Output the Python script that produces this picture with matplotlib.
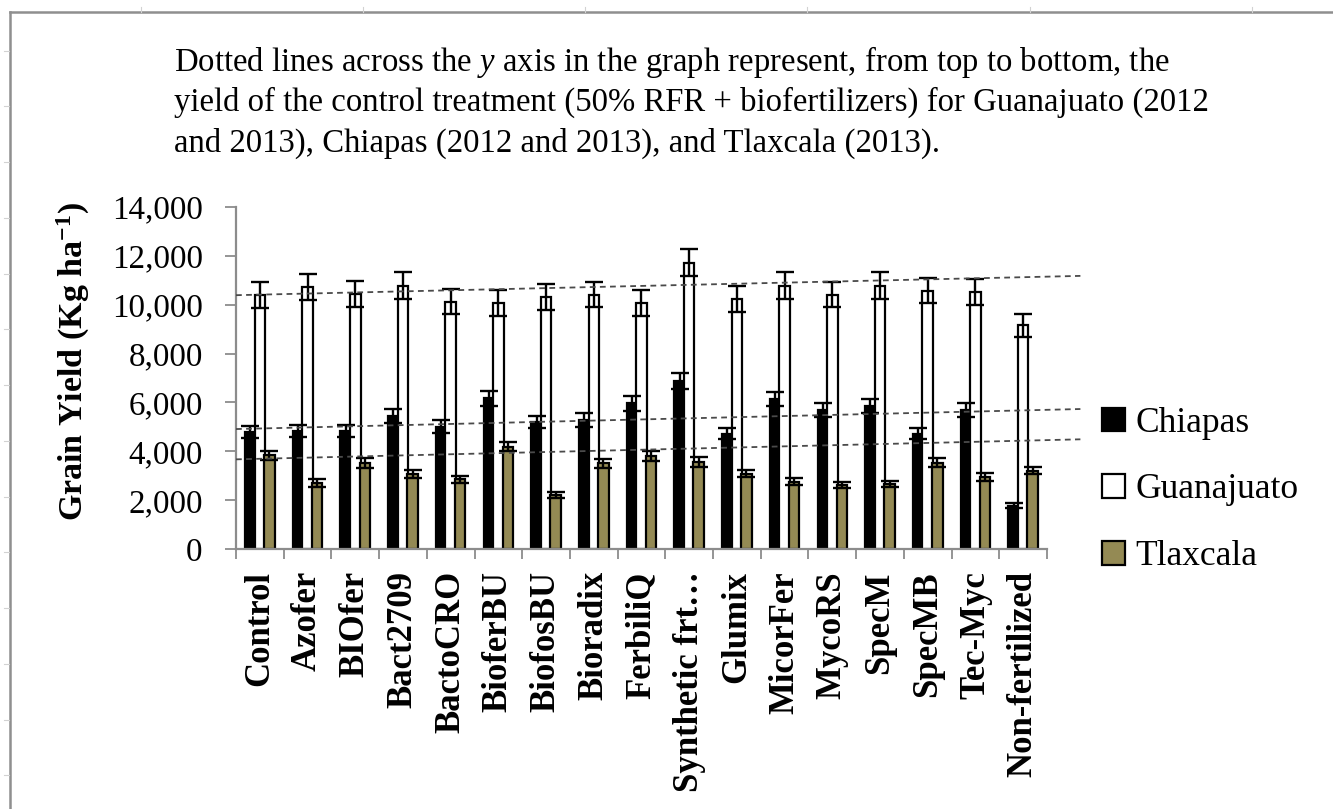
import matplotlib
matplotlib.use("Agg")
import matplotlib.pyplot as plt
from matplotlib.patches import Patch
from matplotlib.lines import Line2D
import numpy as np

plt.rcParams['font.family'] = ['Liberation Serif', 'DejaVu Serif']
plt.rcParams['mathtext.fontset'] = 'custom'
plt.rcParams['mathtext.rm'] = 'Liberation Serif'
plt.rcParams['mathtext.it'] = 'Liberation Serif:italic'
plt.rcParams['mathtext.bf'] = 'Liberation Serif:bold'

# ---------------- data ----------------
categories = ["Control", "Azofer", "BIOfer", "Bact2709", "BactoCRO", "BioferBU",
              "BiofosBU", "Bioradix", "FerbiliQ", "Synthetic frt\u2026", "Glumix",
              "MicorFer", "MycoRS", "SpecM", "SpecMB", "Tec-Myc", "Non-fertilized"]
series_names = ["Chiapas", "Guanajuato", "Tlaxcala"]

chiapas = [4780, 4840, 4830, 5460, 5000, 6170, 5200, 5280, 5960, 6880, 4720,
           6140, 5700, 5850, 4720, 5700, 1770]
chiapas_err = [240, 250, 230, 290, 265, 315, 260, 300, 300, 340, 225,
               290, 290, 295, 230, 290, 100]
guanajuato = [10400, 10730, 10440, 10780, 10130, 10080, 10320, 10410, 10070, 11720, 10240,
              10780, 10410, 10780, 10580, 10520, 9160]
guanajuato_err = [545, 540, 545, 545, 520, 525, 540, 520, 525, 565, 525,
                  545, 510, 545, 525, 520, 465]
tlaxcala = [3840, 2700, 3530, 3070, 2850, 4190, 2200, 3510, 3820, 3550, 3080,
            2760, 2620, 2660, 3530, 2960, 3210]
tlaxcala_err = [190, 150, 205, 165, 140, 190, 125, 190, 205, 205, 150,
                140, 125, 140, 180, 165, 140]

# control-treatment reference lines (start value, end value)
ref_start = [10390, 4910, 3670]
ref_end = [11180, 5730, 4490]

y_ticks = [0, 2000, 4000, 6000, 8000, 10000, 12000, 14000]

title_lines = [
    "Dotted lines across the $y$ axis in the graph represent, from top to bottom, the",
    "yield of the control treatment (50% RFR + biofertilizers) for Guanajuato (2012",
    "and 2013), Chiapas (2012 and 2013), and Tlaxcala (2013).",
]

# ---------------- figure ----------------
W, H = 1333, 809
fig = plt.figure(figsize=(W / 100, H / 100), dpi=100)
fx = lambda px: px / W
fy = lambda py: 1 - py / H

ax = fig.add_axes([fx(236), fy(549), fx(1047) - fx(236), fy(207) - fy(549)])

colors = ["#000000", "#FFFFFF", "#948A54"]
values = [chiapas, guanajuato, tlaxcala]
errs = [chiapas_err, guanajuato_err, tlaxcala_err]
x = np.arange(len(categories))
offsets = [-0.2, 0.0, 0.2]
bw = 0.22

for vals, c, off in zip(values, colors, offsets):
    ax.bar(x + off, vals, width=bw, color=c, edgecolor="black", linewidth=1.6, zorder=2)
for vals, er, off in zip(values, errs, offsets):
    ax.errorbar(x + off, vals, yerr=er, fmt="none", ecolor="black", elinewidth=1.7,
                capsize=6.5, capthick=1.7, zorder=3)

# reference lines
x0, x1 = -0.5, 17.2
for s, e in zip(ref_start, ref_end):
    ax.plot([x0, x1], [s, e], color="#4a4a4a", lw=1.3, ls=(0, (3.2, 2.4)),
            clip_on=False, zorder=4)

ax.set_xlim(-0.5, len(categories) - 0.5)
ax.set_ylim(0, 14000)
ax.set_yticks(y_ticks)
ax.set_yticklabels([f"{v:,}" for v in y_ticks])
ax.set_xticks(x)
ax.set_xticklabels(categories, rotation=90, fontweight="bold", fontsize=25)
ax.set_xticks(np.arange(-0.5, len(categories)), minor=True)
ax.tick_params(axis="x", which="major", length=0, pad=16)
ax.tick_params(axis="x", which="minor", length=7.5, width=1.3, color="#8c8c8c", direction="out")
ax.tick_params(axis="y", which="major", length=8, width=1.3, color="#8c8c8c",
               labelsize=23.8, pad=16)

for sp in ["top", "right"]:
    ax.spines[sp].set_visible(False)
for sp in ["left", "bottom"]:
    ax.spines[sp].set_color("#8c8c8c")
    ax.spines[sp].set_linewidth(1.6)

# y label
fig.text(fx(73), fy(362), "Grain Yield (Kg ha$^{\\mathbf{-1}}$)", rotation=90,
         ha="center", va="center", fontsize=24.5, fontweight="bold")

# title lines
for txt, by in zip(title_lines, [71, 111, 151.5]):
    fig.text(fx(174), fy(by), txt, ha="left", va="baseline", fontsize=23.6)

# legend
handles = [Patch(facecolor=c, edgecolor="black", linewidth=1.6) for c in colors]
fig.legend(handles, series_names, loc="center left", bbox_to_anchor=(fx(1102), fy(490)),
           frameon=False, fontsize=25.5, handlelength=0.65, handleheight=0.65,
           handletextpad=0.3, labelspacing=0.95, borderpad=0, borderaxespad=0)

# page frame
fig.add_artist(Line2D([fx(9.5), fx(9.5)], [fy(12.3), -0.05], transform=fig.transFigure,
                      color="#8f8f8f", lw=1.8))
fig.add_artist(Line2D([fx(9.5), 1.05], [fy(12.3), fy(12.3)], transform=fig.transFigure,
                      color="#8f8f8f", lw=1.8))
for k in range(14):
    py = 50.7 + 55.75 * k
    fig.add_artist(Line2D([fx(3.5), fx(8.5)], [fy(py), fy(py)], transform=fig.transFigure,
                          color="#d2d2d2", lw=0.8))
for k in range(6):
    px = 140.5 + 222.3 * k
    fig.add_artist(Line2D([fx(px), fx(px)], [fy(6.5), fy(11.5)], transform=fig.transFigure,
                          color="#d2d2d2", lw=0.8))

fig.savefig("out.png", dpi=100)
